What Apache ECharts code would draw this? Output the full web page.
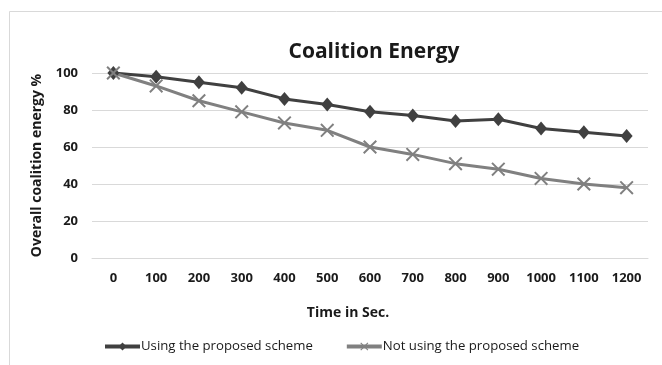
<!DOCTYPE html>
<html>
<head>
<meta charset="utf-8">
<script src="https://cdn.jsdelivr.net/npm/echarts@6/dist/echarts.min.js"></script>
<style>html,body{margin:0;padding:0;background:#fff}#c{width:662px;height:365px}</style>
</head>
<body>
<div id="c"></div>
<script>
const categories = ['0','100','200','300','400','500','600','700','800','900','1000','1100','1200'];
const usingScheme = [100, 98, 95, 92, 86, 83, 79, 77, 74, 75, 70, 68, 66];
const notUsingScheme = [100, 93, 85, 79, 73, 69, 60, 56, 51, 48, 43, 40, 38];
const yTicks = { min: 0, max: 100, interval: 20 };

const FONT = '"Open Sans", sans-serif';
const xShape = 'path://M0,1 L1,0 L5,4 L9,0 L10,1 L6,5 L10,9 L9,10 L5,6 L1,10 L0,9 L4,5 Z';

const chart = echarts.init(document.getElementById('c'), null, {renderer: 'canvas'});
chart.setOption({
  animation: false,
  backgroundColor: '#fff',
  graphic: [{
    type: 'rect', shape: {x: 9.5, y: 11.5, width: 700, height: 400},
    style: {fill: 'none', stroke: '#d9d9d9', lineWidth: 1}, silent: true, z: -1
  }],
  title: {
    text: 'Coalition Energy', left: 369, top: 37, textAlign: 'center',
    textStyle: {fontFamily: FONT, fontSize: 21, fontWeight: 'bold', color: '#1a1a1a'}
  },
  legend: {
    bottom: 12, left: 103, padding: 0, itemWidth: 35, itemHeight: 10, itemGap: 32,
    lineStyle: {width: 4},
    textStyle: {fontFamily: FONT, fontSize: 13.2, color: '#1a1a1a', padding: [0, 0, 0, -4]},
    data: ['Using the proposed scheme', 'Not using the proposed scheme']
  },
  grid: {left: 92, right: 14, top: 73, bottom: 107, containLabel: false},
  xAxis: {
    type: 'category', data: categories, boundaryGap: true,
    name: 'Time in Sec.', nameLocation: 'middle', nameGap: 48,
    nameTextStyle: {fontFamily: FONT, fontSize: 14, fontWeight: 'bold', color: '#1a1a1a', padding: [0, 44, 0, 0]},
    axisLine: {lineStyle: {color: '#d9d9d9'}}, axisTick: {show: false},
    axisLabel: {fontFamily: FONT, fontSize: 13, fontWeight: 'bold', color: '#1a1a1a', margin: 14, interval: 0}
  },
  yAxis: {
    type: 'value', min: yTicks.min, max: yTicks.max, interval: yTicks.interval,
    name: 'Overall coalition energy %', nameLocation: 'middle', nameGap: 48,
    nameTextStyle: {fontFamily: FONT, fontSize: 14, fontWeight: 'bold', color: '#1a1a1a'},
    axisLine: {show: false}, axisTick: {show: false},
    splitLine: {lineStyle: {color: '#d9d9d9', width: 1}},
    axisLabel: {fontFamily: FONT, fontSize: 13, fontWeight: 'bold', color: '#1a1a1a', margin: 14}
  },
  series: [{
    name: 'Using the proposed scheme', type: 'line', data: usingScheme,
    symbol: 'diamond', symbolSize: [12, 14],
    lineStyle: {color: '#404040', width: 3}, itemStyle: {color: '#404040'}
  }, {
    name: 'Not using the proposed scheme', type: 'line', data: notUsingScheme,
    symbol: xShape, symbolSize: 14,
    lineStyle: {color: '#808080', width: 3}, itemStyle: {color: '#808080'}
  }]
});
</script>
</body>
</html>
